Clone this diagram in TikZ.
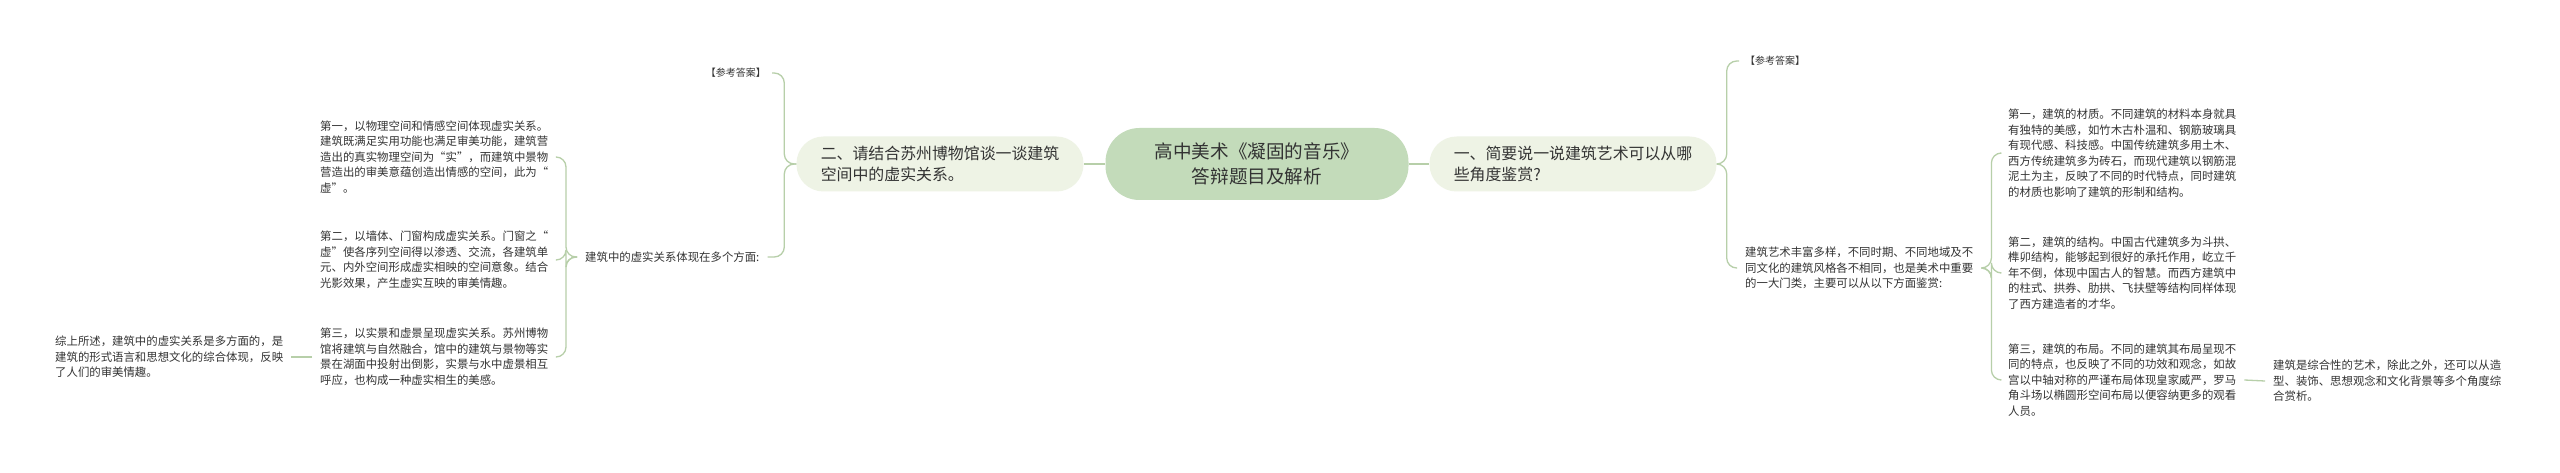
\documentclass[tikz,border=0pt]{standalone}
\usepackage{fontspec}
\setmainfont{Noto Sans CJK SC}
\usetikzlibrary{positioning}
\definecolor{linkgreen}{HTML}{B7CFA9}
\definecolor{rootfill}{HTML}{C3DBBA}
\definecolor{qfill}{HTML}{EEF3E5}
\definecolor{inkgray}{HTML}{333333}
\tikzset{
	root/.style={fill=rootfill, rounded corners=34pt, minimum width=303pt, minimum height=72pt,
		align=center, text=inkgray, font=\fontsize{18.6}{25}\selectfont},
	qbox/.style={fill=qfill, rounded corners=27pt, minimum width=287pt, minimum height=55pt,
		align=left, text=inkgray, font=\fontsize{15.9}{21}\selectfont},
	para/.style={align=left, text=inkgray, inner xsep=8pt, inner ysep=3pt,
		font=\fontsize{11.4}{15.5}\selectfont},
	tag/.style={text=inkgray, inner xsep=6pt, font=\fontsize{10}{13}\selectfont},
	link/.style={draw=linkgreen, line width=1.3pt, rounded corners=10pt}
}

\begin{document}
\begin{tikzpicture}[x=1pt, y=-1pt]
	% canvas
	\fill[white] (0,0) rectangle (2560,473);
	\useasboundingbox (0,0) rectangle (2560,473);
	% centre and questions
	\node[root] (topic) at (1257,164) {高中美术《凝固的音乐》\\答辩题目及解析};
	\node[qbox] (qTwo) at (940,164) {二、请结合苏州博物馆谈一谈建筑\\空间中的虚实关系。};
	\node[qbox] (qOne) at (1573,164) {一、简要说一说建筑艺术可以从哪\\些角度鉴赏?};
	\draw[link] (topic.west) -- (qTwo.east);
	\draw[link] (topic.east) -- (qOne.west);

	% left branch
	\node[tag, anchor=east] (ansL) at (772,73) {【参考答案】};
	\node[para, anchor=west] (aspects) at (577,257) {建筑中的虚实关系体现在多个方面:};
	\node[para, anchor=west] (virtOne) at (312,157) {第一，以物理空间和情感空间体现虚实关系。\\建筑既满足实用功能也满足审美功能，建筑营\\造出的真实物理空间为“实”，而建筑中景物\\营造出的审美意蕴创造出情感的空间，此为“\\虚”。};
	\node[para, anchor=west] (virtTwo) at (312,260) {第二，以墙体、门窗构成虚实关系。门窗之“\\虚”使各序列空间得以渗透、交流，各建筑单\\元、内外空间形成虚实相映的空间意象。结合\\光影效果，产生虚实互映的审美情趣。};
	\node[para, anchor=west] (virtThree) at (312,357) {第三，以实景和虚景呈现虚实关系。苏州博物\\馆将建筑与自然融合，馆中的建筑与景物等实\\景在湖面中投射出倒影，实景与水中虚景相互\\呼应，也构成一种虚实相生的美感。};
	\node[para, anchor=west] (sumL) at (47,357) {综上所述，建筑中的虚实关系是多方面的，是\\建筑的形式语言和思想文化的综合体现，反映\\了人们的审美情趣。};
	\foreach \kid in {ansL,aspects}
		\draw[link] (qTwo.west) -- ++(-12,0) |- (\kid.east);
	\foreach \kid in {virtOne,virtTwo,virtThree}
		\draw[link] (aspects.west) -- ++(-11,0) |- (\kid.east);
	\draw[link] (virtThree.west) -- (sumL.east);

	% right branch
	\node[tag, anchor=west] (ansR) at (1739,61) {【参考答案】};
	\node[para, anchor=west] (artIntro) at (1737,268) {建筑艺术丰富多样，不同时期、不同地域及不\\同文化的建筑风格各不相同，也是美术中重要\\的一大门类，主要可以从以下方面鉴赏:};
	\node[para, anchor=west] (matter) at (2000,153) {第一，建筑的材质。不同建筑的材料本身就具\\有独特的美感，如竹木古朴温和、钢筋玻璃具\\有现代感、科技感。中国传统建筑多用土木、\\西方传统建筑多为砖石，而现代建筑以钢筋混\\泥土为主，反映了不同的时代特点，同时建筑\\的材质也影响了建筑的形制和结构。};
	\node[para, anchor=west] (frame) at (2000,273) {第二，建筑的结构。中国古代建筑多为斗拱、\\榫卯结构，能够起到很好的承托作用，屹立千\\年不倒，体现中国古人的智慧。而西方建筑中\\的柱式、拱券、肋拱、飞扶壁等结构同样体现\\了西方建造者的才华。};
	\node[para, anchor=west] (layout) at (2000,380) {第三，建筑的布局。不同的建筑其布局呈现不\\同的特点，也反映了不同的功效和观念，如故\\宫以中轴对称的严谨布局体现皇家威严，罗马\\角斗场以椭圆形空间布局以便容纳更多的观看\\人员。};
	\node[para, anchor=west] (sumR) at (2265,381) {建筑是综合性的艺术，除此之外，还可以从造\\型、装饰、思想观念和文化背景等多个角度综\\合赏析。};
	\foreach \kid in {ansR,artIntro}
		\draw[link] (qOne.east) -- ++(10,0) |- (\kid.west);
	\foreach \kid in {matter,frame,layout}
		\draw[link] (artIntro.east) -- ++(10,0) |- (\kid.west);
	\draw[link] (layout.east) -- (sumR.west);
\end{tikzpicture}
\end{document}
